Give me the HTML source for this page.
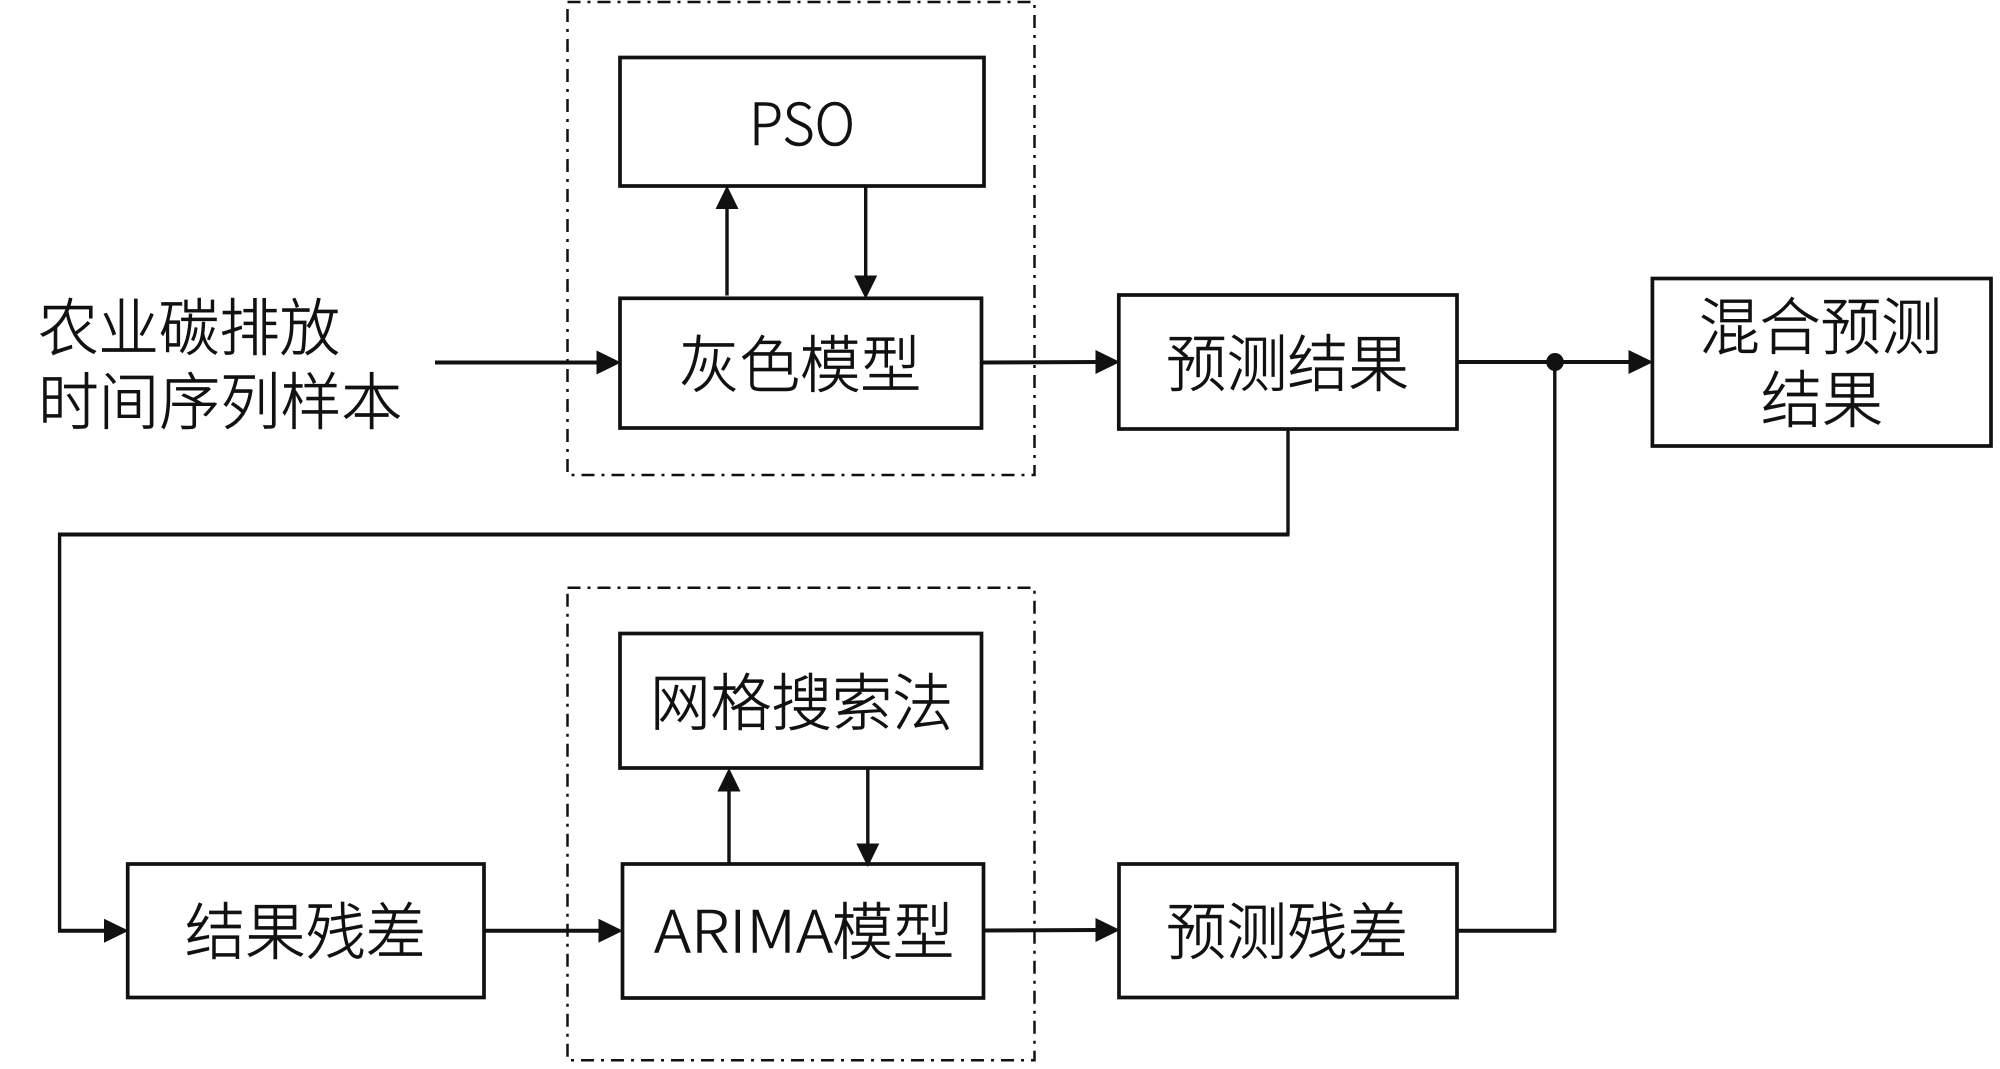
<!DOCTYPE html>
<html lang="zh-CN">
<head>
<meta charset="utf-8">
<title>混合预测流程图</title>
<style>
html,body{margin:0;padding:0;background:#fff;width:2000px;height:1069px;overflow:hidden}
svg{display:block}
text{font-family:"Noto Sans CJK SC","WenQuanYi Zen Hei",sans-serif;font-size:62px;font-weight:300;fill:#111;stroke:#111;stroke-width:.7}
.lat{stroke-width:.6}
.b{fill:#fff;stroke:#111;stroke-width:3.7}
.l{fill:none;stroke:#111;stroke-width:3.4}
.w{fill:none;stroke:#111;stroke-width:4}
.d{fill:none;stroke:#111;stroke-width:2.5;stroke-dasharray:13 7 3 7}
.h{fill:#111;stroke:none}
</style>
</head>
<body>
<svg width="2000" height="1069" viewBox="0 0 2000 1069" xmlns="http://www.w3.org/2000/svg">
<rect x="0" y="0" width="2000" height="1069" fill="#fff"/>

<!-- connectors behind dashed frames -->
<path class="w" d="M435 362.5H600"/>
<path class="w" d="M982 362.5L1100 362"/>
<path class="w" d="M484 930.7H602"/>
<path class="w" d="M983 930.5L1100 930"/>

<rect class="d" x="567.5" y="2" width="467" height="473"/>
<rect class="d" x="567.5" y="587.7" width="467" height="472.5"/>

<rect class="b" x="620" y="57.5" width="364" height="128.5"/>
<rect class="b" x="620" y="298.3" width="361.5" height="129.7"/>
<rect class="b" x="1118.8" y="295" width="338.2" height="134"/>
<rect class="b" x="1652.4" y="278.5" width="338.6" height="167.5"/>
<rect class="b" x="620" y="633.5" width="361.5" height="134.5"/>
<rect class="b" x="127.7" y="864" width="356.3" height="133.5"/>
<rect class="b" x="622.5" y="864" width="361" height="134"/>
<rect class="b" x="1119" y="864" width="338" height="133.5"/>

<!-- vertical pairs -->
<path class="l" d="M727 295.5V205"/>
<path class="h" d="M727 185.5L715.5 209H738.5Z"/>
<path class="l" d="M865.7 186V280"/>
<path class="h" d="M865.7 299L854.2 275.5H877.2Z"/>
<path class="l" d="M729 863V788"/>
<path class="h" d="M729 768L717.5 791.5H740.5Z"/>
<path class="l" d="M867.8 768V848"/>
<path class="h" d="M867.8 867L856.3 843.5H879.3Z"/>

<!-- arrowheads horizontal -->
<path class="h" d="M621 362.5L596.5 350.5V374.5Z"/>
<path class="h" d="M1120 362L1095.5 350V374Z"/>
<path class="h" d="M623 930.7L598.5 918.7V942.7Z"/>
<path class="h" d="M1120 930L1095.5 918V942Z"/>
<path class="h" d="M128.7 930.7L104 918.7V942.7Z"/>
<path class="h" d="M1653.4 362L1628.5 350V374Z"/>

<!-- routes -->
<path class="w" d="M1457 362H1632"/>
<path class="l" d="M1288 429V534.5"/>
<path class="w" d="M1289.5 534.5H58"/>
<path class="l" d="M59.6 533V930.7"/>
<path class="w" d="M58 930.7H108"/>
<path class="w" d="M1457 930.7H1556"/>
<path class="l" d="M1554.8 932V362"/>
<ellipse class="h" cx="1555" cy="362" rx="8.8" ry="9"/>

<!-- labels -->
<text x="38" y="350" textLength="302" lengthAdjust="spacingAndGlyphs">农业碳排放</text>
<text x="38" y="424" textLength="364" lengthAdjust="spacingAndGlyphs">时间序列样本</text>
<text class="lat" x="749" y="145" style="font-size:58px" textLength="106" lengthAdjust="spacingAndGlyphs">PSO</text>
<text x="679" y="387" textLength="242" lengthAdjust="spacingAndGlyphs">灰色模型</text>
<text x="1166" y="386" textLength="243" lengthAdjust="spacingAndGlyphs">预测结果</text>
<text x="1699" y="349" textLength="243" lengthAdjust="spacingAndGlyphs">混合预测</text>
<text x="1761" y="422" textLength="122" lengthAdjust="spacingAndGlyphs">结果</text>
<text x="650" y="725" textLength="303" lengthAdjust="spacingAndGlyphs">网格搜索法</text>
<text x="185" y="954" textLength="241" lengthAdjust="spacingAndGlyphs">结果残差</text>
<text class="lat" x="654" y="952.7" style="font-size:58px" textLength="179" lengthAdjust="spacingAndGlyphs">ARIMA</text>
<text x="832" y="954" textLength="122" lengthAdjust="spacingAndGlyphs">模型</text>
<text x="1166" y="954" textLength="242" lengthAdjust="spacingAndGlyphs">预测残差</text>
</svg>
</body>
</html>
